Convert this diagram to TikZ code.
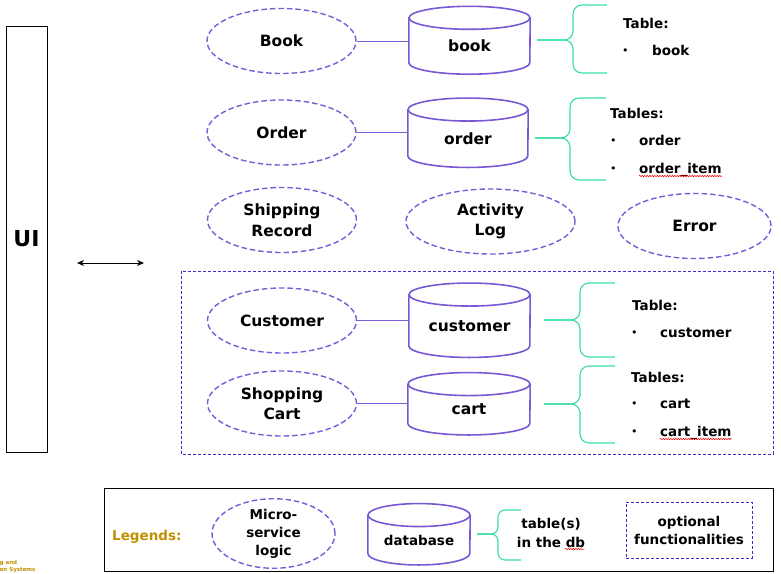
\documentclass[tikz,border=0pt]{standalone}
\usepackage{fontspec}
\setmainfont{DejaVu Sans}
\usetikzlibrary{shapes.geometric,arrows.meta,decorations.pathmorphing}

\definecolor{msline}{RGB}{125,90,215}
\definecolor{dbline}{RGB}{120,88,212}
\definecolor{tblgreen}{RGB}{55,222,160}
\definecolor{optline}{RGB}{75,35,205}
\definecolor{legendgold}{RGB}{191,144,0}

% cylinder round a db node: node name, x radius
\newcommand\dbcyl[2]{%
	\draw[dbshape] (#1.north) ellipse [x radius=#2,y radius=11.5pt];
	\draw[dbshape] (#1.north west) -- ([yshift=11.5pt]#1.south west) arc [start angle=180,end angle=360,x radius=#2,y radius=11.5pt] -- (#1.north east);}

\begin{document}
\begin{tikzpicture} [x=1pt,y=-1pt,
			service/.style={ellipse,draw=msline,dash pattern=on 5.5pt off 3pt,line width=1.4pt,minimum width=149pt,minimum height=65pt,inner sep=0pt,align=center,font=\fontsize{15.5}{20.5}\selectfont\bfseries},
			db/.style={minimum width=121pt,minimum height=56pt,inner sep=0pt,font=\fontsize{15.5}{18}\selectfont\bfseries},
			dbshape/.style={draw=dbline,line width=1.6pt},
			link/.style={draw=msline,line width=0.9pt},
			tblbrace/.style={draw=tblgreen,line width=1.1pt,rounded corners=9pt},
			tbl/.style={anchor=base west,inner sep=0pt,font=\fontsize{13.5}{15}\selectfont\bfseries},
			bullet/.style={tbl,font=\fontsize{11}{12}\selectfont,yshift=0.5pt},
			spell/.style={draw=red,line width=0.5pt,decorate,decoration={snake,amplitude=0.7pt,segment length=2.5pt}},
			optional/.style={draw=optline,line width=0.9pt,dash pattern=on 3pt off 2pt},
			legtext/.style={align=center,font=\fontsize{13.5}{18}\selectfont\bfseries}]
			\useasboundingbox (0,0) rectangle (781,573);
			\clip (0,0) rectangle (781,573);

			% UI side
			\node[draw,line width=0.9pt,minimum width=41pt,minimum height=426pt,inner sep=0pt,font=\fontsize{22}{24}\selectfont\bfseries] (ui) at (26.5,239) {UI};
			\coordinate (arr_l) at (77,263);
			\coordinate (arr_r) at (144,263);
			\draw[{Stealth[length=7pt,width=6pt]}-{Stealth[length=7pt,width=6pt]},line width=0.9pt] (arr_l) -- (arr_r);

			% micro-services
			\node[service] (ms_book) at (281.5,41) {Book};
			\node[service] (ms_order) at (281.5,132.5) {Order};
			\node[service] (ms_ship) at (282,220) {Shipping\\Record};
			\node[service,minimum width=169pt] (ms_log) at (490.5,221.5) {Activity\\Log};
			\node[service,minimum width=153pt] (ms_error) at (694.5,226) {Error};
			\node[service] (ms_cust) at (282,320.5) {Customer};
			\node[service] (ms_cart) at (282,403.5) {Shopping\\Cart};

			% optional functionalities
			\draw[optional] (181,271) rectangle (773,454);

			% databases
			\node[db] (db_book) at (469.5,46) {book};
			\node[db,minimum width=120pt,minimum height=57.5pt] (db_order) at (468,138.5) {order};
			\node[db,minimum height=62.5pt] (db_cust) at (469.5,326) {customer};
			\node[db,minimum width=122pt,minimum height=50.5pt] (db_cart) at (469,409.5) {cart};
			\dbcyl{db_book}{60.5pt}
			\dbcyl{db_order}{60pt}
			\dbcyl{db_cust}{60.5pt}
			\dbcyl{db_cart}{61pt}
			\path[link] (ms_book.east) edge (ms_book.east -| db_book.west);
			\path[link] (ms_order.east) edge (ms_order.east -| db_order.west);
			\path[link] (ms_cust.east) edge (ms_cust.east -| db_cust.west);
			\path[link] (ms_cart.east) edge (ms_cart.east -| db_cart.west);

			% tables
			\draw[tblbrace] (607,5) -- (573,5) -- (573,40) -- (537,40);
			\draw[tblbrace] (607,73) -- (573,73) -- (573,40) -- (537,40);
			\node[tbl] (t_book_head) at (623,28) {Table:};
			\node[bullet] (t_book_b1) at (622,55) {•};
			\node[tbl] (t_book) at (652,55) {book};

			\draw[tblbrace] (606,98) -- (570,98) -- (570,138) -- (535,138);
			\draw[tblbrace] (606,180) -- (570,180) -- (570,138) -- (535,138);
			\node[tbl] (t_order_head) at (610,118) {Tables:};
			\node[bullet] (t_order_b1) at (610,145) {•};
			\node[tbl] (t_order) at (639,145) {order};
			\node[bullet] (t_order_b2) at (610,173) {•};
			\node[tbl] (t_order_item) at (639,173) {order\_item};
			\draw[spell] ([yshift=-3pt]t_order_item.base west) -- ([yshift=-3pt]t_order_item.base east);

			\draw[tblbrace] (615,283) -- (580,283) -- (580,320) -- (544,320);
			\draw[tblbrace] (615,357) -- (580,357) -- (580,320) -- (544,320);
			\node[tbl] (t_cust_head) at (632,310) {Table:};
			\node[bullet] (t_cust_b1) at (631,337) {•};
			\node[tbl] (t_cust) at (660,337) {customer};

			\draw[tblbrace] (615,366) -- (580,366) -- (580,404) -- (544,404);
			\draw[tblbrace] (615,443) -- (580,443) -- (580,404) -- (544,404);
			\node[tbl] (t_cart_head) at (631,382) {Tables:};
			\node[bullet] (t_cart_b1) at (631,408) {•};
			\node[tbl] (t_cart) at (660,408) {cart};
			\node[bullet] (t_cart_b2) at (631,436) {•};
			\node[tbl] (t_cart_item) at (660,436) {cart\_item};
			\draw[spell] ([yshift=-3pt]t_cart_item.base west) -- ([yshift=-3pt]t_cart_item.base east);

			% legend
			\node[draw,line width=0.9pt,minimum width=669pt,minimum height=83pt,inner sep=0pt] (legend) at (438.5,529.5) {};
			\node[font=\fontsize{13.5}{16}\selectfont\bfseries,text=legendgold,anchor=west,inner sep=0pt] (leg_title) at (112,537) {Legends:};
			\node[service,minimum width=123pt,minimum height=63pt,font=\fontsize{13.5}{18}\selectfont\bfseries] (leg_ms) at (273.5,533.5) {Micro-\\service\\logic};
			\node[db,minimum width=102pt,minimum height=49.5pt,font=\fontsize{13.5}{16}\selectfont\bfseries] (leg_db) at (419,540) {database};
			\dbcyl{leg_db}{51pt}
			\draw[tblbrace,rounded corners=7pt] (521,510) -- (498,510) -- (498,534) -- (477,534);
			\draw[tblbrace,rounded corners=7pt] (521,560) -- (498,560) -- (498,534) -- (477,534);
			\node[legtext,font=\fontsize{13.5}{19}\selectfont\bfseries] (leg_tbl) at (551,533) {table(s)\\in the db};
			\coordinate (db_l) at (565,549);
			\coordinate (db_r) at (584,549);
			\draw[spell] (db_l) -- (db_r);
			\node[optional,legtext,minimum width=126pt,minimum height=56pt,inner sep=0pt] (leg_opt) at (689,530) {optional\\functionalities};

			% cut-off footer
			\node[anchor=west,inner sep=0pt,text=legendgold,font=\fontsize{5.5}{7}\selectfont\bfseries] (foot_a) at (-0.5,563) {g and};
			\node[anchor=west,inner sep=0pt,text=legendgold,font=\fontsize{5.5}{7}\selectfont\bfseries] (foot_b) at (-0.5,570) {on Systems};
		\end{tikzpicture}
\end{document}
